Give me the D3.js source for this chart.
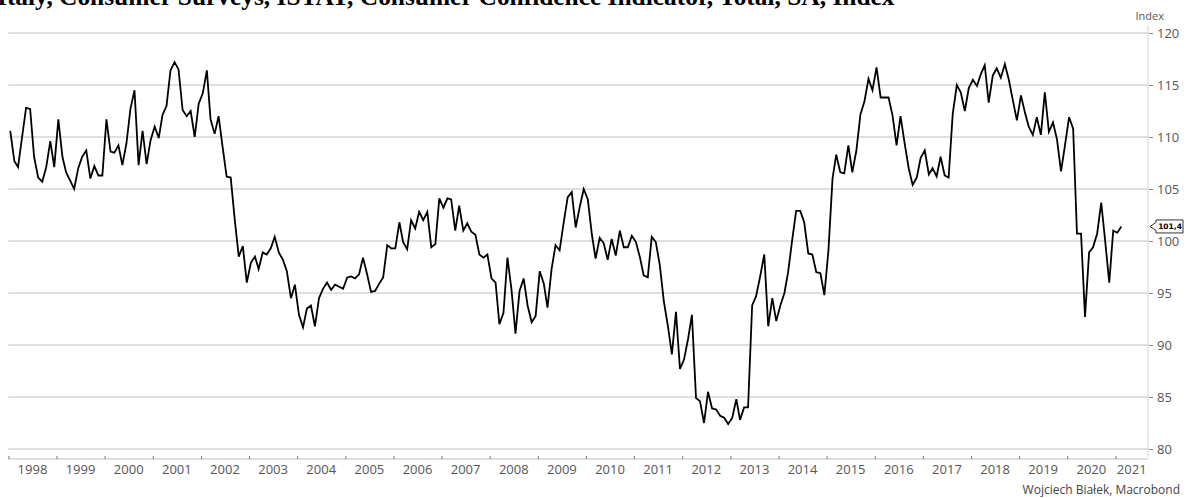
<!DOCTYPE html>
<html>
<head>
<meta charset="utf-8">
<script src="https://cdn.jsdelivr.net/npm/d3@7"></script>
<style>
  html, body { margin: 0; padding: 0; background: #fff; }
  svg { display: block; }
</style>
</head>
<body>
<svg id="chart" width="1192" height="498"></svg>
<script>
// ---- Data (monthly, Jan 1998 – Feb 2021) ----
const titleText = "Italy, Consumer Surveys, ISTAT, Consumer Confidence Indicator, Total, SA, Index";
const unitLabel = "Index";
const sourceText = "Wojciech Białek, Macrobond";
const startYear = 1998;
const values = [
  // 1998
  110.6, 107.7, 107.1, 110.0, 112.8, 112.7, 108.1, 106.1, 105.7, 107.1, 109.6, 107.1,
  // 1999
  111.7, 108.1, 106.6, 105.8, 105.0, 107.0, 108.1, 108.7, 106.0, 107.2, 106.3, 106.3,
  // 2000
  111.7, 108.6, 108.5, 109.2, 107.3, 109.4, 112.7, 114.5, 107.3, 110.6, 107.4, 109.7,
  // 2001
  111.0, 109.9, 112.1, 113.0, 116.4, 117.2, 116.5, 112.6, 112.0, 112.5, 110.0, 113.2,
  // 2002
  114.2, 116.4, 111.7, 110.3, 112.0, 109.0, 106.2, 106.1, 102.0, 98.5, 99.5, 96.0,
  // 2003
  97.9, 98.5, 97.3, 98.9, 98.7, 99.3, 100.4, 98.9, 98.2, 97.1, 94.5, 95.8,
  // 2004
  92.9, 91.7, 93.5, 93.8, 91.8, 94.5, 95.4, 96.0, 95.3, 95.8, 95.6, 95.4,
  // 2005
  96.5, 96.6, 96.4, 96.8, 98.4, 96.8, 95.1, 95.2, 95.9, 96.5, 99.6, 99.3,
  // 2006
  99.3, 101.8, 99.9, 99.2, 102.0, 101.2, 102.8, 102.0, 102.8, 99.4, 99.7, 104.1,
  // 2007
  103.2, 104.1, 104.0, 101.0, 103.4, 101.0, 101.7, 100.9, 100.6, 98.7, 98.4, 98.7,
  // 2008
  96.4, 96.0, 92.0, 93.1, 98.4, 95.3, 91.1, 95.2, 96.4, 93.8, 92.2, 92.8,
  // 2009
  97.1, 95.9, 93.6, 97.3, 99.6, 99.1, 101.7, 104.2, 104.7, 101.3, 103.3, 105.0,
  // 2010
  104.0, 100.6, 98.3, 100.3, 99.8, 98.2, 100.2, 98.6, 101.0, 99.4, 99.4, 100.5,
  // 2011
  99.9, 98.4, 96.7, 96.5, 100.4, 99.9, 97.7, 94.2, 91.8, 89.1, 93.2, 87.7,
  // 2012
  88.6, 90.6, 92.9, 84.9, 84.6, 82.5, 85.5, 83.9, 83.8, 83.2, 83.0, 82.4,
  // 2013
  83.0, 84.8, 82.8, 84.0, 84.0, 93.8, 94.7, 96.6, 98.7, 91.8, 94.5, 92.3,
  // 2014
  93.8, 95.0, 97.0, 100.1, 102.9, 102.9, 101.8, 98.8, 98.7, 97.0, 96.9, 94.8,
  // 2015
  99.1, 106.0, 108.3, 106.6, 106.5, 109.2, 106.6, 108.7, 112.2, 113.4, 115.6, 114.5,
  // 2016
  116.7, 113.8, 113.8, 113.8, 112.1, 109.2, 112.0, 109.4, 107.0, 105.4, 106.1, 108.0,
  // 2017
  108.7, 106.4, 107.0, 106.2, 108.1, 106.3, 106.1, 112.2, 115.0, 114.3, 112.5, 114.7,
  // 2018
  115.5, 114.9, 116.0, 116.9, 113.3, 115.9, 116.6, 115.7, 117.0, 115.5, 113.5, 111.6,
  // 2019
  114.0, 112.3, 111.0, 110.2, 111.9, 110.2, 114.3, 110.5, 111.4, 109.8, 106.7, 109.2,
  // 2020
  111.9, 110.8, 100.7, 100.7, 92.7, 98.9, 99.4, 100.7, 103.7, 100.0, 96.0, 101.0,
  // 2021
  100.8, 101.4
];
const yTicks = [80, 85, 90, 95, 100, 105, 110, 115, 120];
const xTickYears = [1998, 1999, 2000, 2001, 2002, 2003, 2004, 2005, 2006, 2007, 2008, 2009,
                    2010, 2011, 2012, 2013, 2014, 2015, 2016, 2017, 2018, 2019, 2020, 2021];
const lastLabel = "101,4";

// ---- Build ----
const data = values.map((v, i) => ({ date: new Date(startYear, i, 15), value: v }));

const svg = d3.select("#chart");
const plotL = 8.4, plotR = 1148, plotT = 33, plotB = 449;

const x = d3.scaleTime()
  .domain([new Date(1998, 0, 1), new Date(2021, 8, 5)])
  .range([plotL, plotR]);
const y = d3.scaleLinear().domain([80, 120]).range([plotB, plotT]);

// gridlines
svg.append("g").selectAll("line").data(yTicks).join("line")
  .attr("x1", plotL).attr("x2", plotR)
  .attr("y1", d => y(d)).attr("y2", d => y(d))
  .attr("stroke", "#d4d4d4").attr("stroke-width", 1.3);

// right axis line
svg.append("line")
  .attr("x1", plotR).attr("x2", plotR).attr("y1", plotT - 8).attr("y2", plotB + 8)
  .attr("stroke", "#d4d4d4").attr("stroke-width", 1);

// right axis ticks + labels
const yAxis = d3.axisRight(y).tickValues(yTicks).tickSize(4).tickPadding(4);
const yg = svg.append("g").attr("transform", `translate(${plotR + 1},0)`).call(yAxis);
yg.select(".domain").remove();
yg.selectAll(".tick line").attr("stroke", "#888");
yg.selectAll(".tick text")
  .attr("fill", "#555").style("font-family", "'Open Sans', sans-serif").style("font-size", "13px");

svg.append("text").attr("x", 1164).attr("y", 20).attr("text-anchor", "end")
  .attr("fill", "#555").style("font-family", "'Open Sans', sans-serif").style("font-size", "11px")
  .text(unitLabel);

// x axis
const axisY = 459;
svg.append("line").attr("x1", plotL).attr("x2", plotR).attr("y1", axisY).attr("y2", axisY)
  .attr("stroke", "#d4d4d4").attr("stroke-width", 1.3);
const tickDates = xTickYears.map(yr => new Date(yr, 0, 1));
const xAxis = d3.axisBottom(x).tickValues(tickDates).tickSize(-3).tickFormat("");
const xg = svg.append("g").attr("transform", `translate(0,${axisY})`).call(xAxis);
xg.select(".domain").remove();
xg.selectAll(".tick line").attr("stroke", "#777");
// year labels centered in each year interval
svg.append("g").selectAll("text").data(xTickYears).join("text")
  .attr("x", yr => {
    const a = x(new Date(yr, 0, 1));
    const b = Math.min(x(new Date(yr + 1, 0, 1)), plotR);
    return (a + b) / 2;
  })
  .attr("y", 474).attr("text-anchor", "middle")
  .attr("fill", "#555").style("font-family", "'Open Sans', sans-serif").style("font-size", "13px")
  .text(yr => yr);

// line
const line = d3.line().x(d => x(d.date)).y(d => y(d.value));
svg.append("path").datum(data)
  .attr("d", line).attr("fill", "none").attr("stroke", "#000").attr("stroke-width", 1.8)
  .attr("stroke-linejoin", "miter");

// last value label
const last = data[data.length - 1];
const ly = y(last.value);
const bx = 1156, bw = 27, bh = 13;
svg.append("path")
  .attr("d", `M${bx - 6},${ly} L${bx},${ly - 4} L${bx},${ly - bh / 2} L${bx + bw},${ly - bh / 2} L${bx + bw},${ly + bh / 2} L${bx},${ly + bh / 2} L${bx},${ly + 4} Z`)
  .attr("fill", "#fff").attr("stroke", "#000").attr("stroke-width", 0.8);
svg.append("text").attr("x", bx + bw / 2 + 0.5).attr("y", ly + 3)
  .attr("text-anchor", "middle").attr("fill", "#000")
  .style("font-family", "'DejaVu Sans', sans-serif").style("font-size", "7.5px").style("font-weight", "bold")
  .text(lastLabel);

// title (clipped at top, as in the reference)
svg.append("text").attr("x", -3).attr("y", 5)
  .style("font-family", "'Liberation Serif', 'Times New Roman', serif").style("font-size", "25.4px").style("font-weight", "bold")
  .attr("fill", "#000").text(titleText);

// source
svg.append("text").attr("x", 1180).attr("y", 494).attr("text-anchor", "end")
  .attr("fill", "#444").style("font-family", "'Open Sans', sans-serif").style("font-size", "12px")
  .text(sourceText);
</script>
</body>
</html>
